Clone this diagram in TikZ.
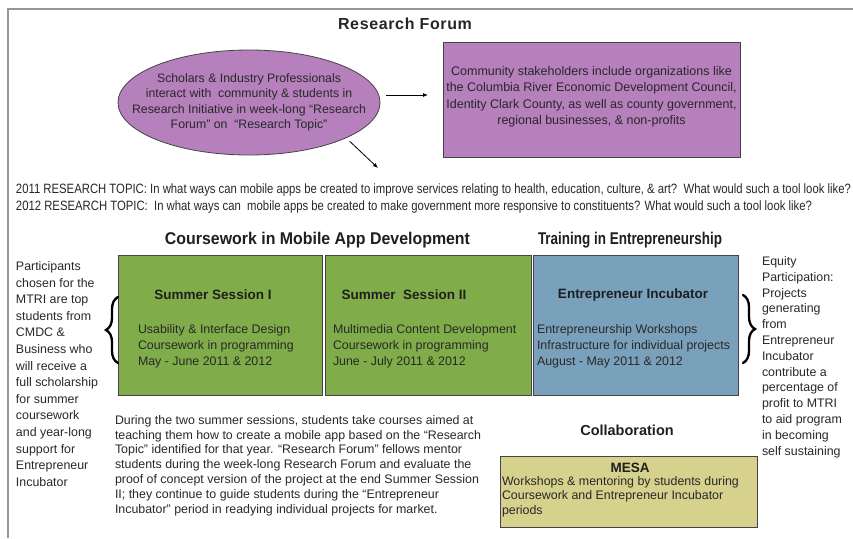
\documentclass[tikz,border=0pt]{standalone}
\usepackage{fontspec}
\setmainfont{Liberation Sans}
\usepackage{graphicx}
\usetikzlibrary{shapes.geometric,decorations.pathreplacing,arrows.meta}

\definecolor{forumpurple}{RGB}{181,128,187}
\definecolor{coursegreen}{RGB}{128,172,74}
\definecolor{incubblue}{RGB}{122,161,187}
\definecolor{mesayellow}{RGB}{214,210,142}
\definecolor{framegray}{RGB}{150,150,150}
\definecolor{edgegray}{RGB}{72,66,72}
\definecolor{inktext}{RGB}{40,40,40}

\begin{document}
\begin{tikzpicture}[x=1pt,y=-1pt,
  every node/.style={inner sep=0pt, outer sep=0pt},
  sidetext/.style={font=\fontsize{12.4}{16.4}\selectfont, text=inktext, align=left, anchor=west},
  boxtext/.style={font=\fontsize{12.4}{15.8}\selectfont, text=inktext, align=left, anchor=west},
  boxtitle/.style={font=\fontsize{13.5}{16}\selectfont\bfseries, text=black!88},
  panel/.style={draw=edgegray, line width=0.8pt},
  arr/.style={-{Latex[length=5pt,width=4pt]}, line width=0.8pt},
  bracestyle/.style={decorate, decoration={brace, amplitude=12pt}, line width=2.3pt, line cap=round},
]
% canvas and outer frame
\fill[white] (0,0) rectangle (853,538);
\useasboundingbox (0,0) rectangle (853,538);
\draw[framegray, line width=2pt] (8,538) -- (8,9) -- (853,9);

% ---- Research Forum ----
\node[font=\fontsize{16}{19}\selectfont\bfseries\addfontfeature{LetterSpace=4}, text=black!85] (rftitle) at (405,24) {Research Forum};

\node[ellipse, panel, fill=forumpurple, minimum width=262pt, minimum height=105pt] (ell) at (249,102.5) {};
\node[font=\fontsize{12.3}{15.5}\selectfont, text=inktext, align=center] (elltext) at (ell.center) {Scholars \& Industry Professionals\\interact with\ \ community \& students in\\Research Initiative in week-long ``Research\\Forum'' on\ \ ``Research Topic''};

\node[panel, fill=forumpurple, minimum width=297pt, minimum height=115pt] (fbox) at (591.5,99.5) {};
\node[font=\fontsize{12.5}{16.5}\selectfont, text=inktext, align=center] (fboxtext) at (591.5,97) {Community stakeholders include organizations like\\the Columbia River Economic Development Council,\\Identity Clark County, as well as county government,\\regional businesses, \& non-profits};

\coordinate (topicpt) at (378,168);
\draw[arr] ([xshift=6pt,yshift=7.5pt]ell.east) -- ([xshift=-15pt,yshift=4.5pt]fbox.west);
\draw[arr, shorten <=5pt] (ell.-20) -- (topicpt);

% ---- research topics ----
\node[anchor=west, text=inktext] (topics) at (16,198.5) {\resizebox{835pt}{\height}{\fontsize{13.5}{17}\selectfont\begin{tabular}{@{}l@{}}2011 RESEARCH TOPIC: In what ways can mobile apps be created to improve services relating to health, education, culture, \& art?\ \ What would such a tool look like?\\2012 RESEARCH TOPIC:\ \ In what ways can\ \ mobile apps be created to make government more responsive to constituents? What would such a tool look like?\end{tabular}}};

% ---- section headings ----
\node[text=black!88] (hcourse) at (317.5,240) {\resizebox{305pt}{\height}{\fontsize{17}{20}\selectfont\bfseries Coursework in Mobile App Development}};
\node[text=black!88] (htrain) at (630,240) {\resizebox{184pt}{\height}{\fontsize{17}{20}\selectfont\bfseries Training in Entrepreneurship}};

% ---- program boxes ----
\node[panel, fill=coursegreen, minimum width=204pt, minimum height=140pt] (s1) at (220,325) {};
\node[panel, fill=coursegreen, minimum width=206pt, minimum height=140pt] (s2) at (428,325) {};
\node[panel, fill=incubblue, minimum width=205pt, minimum height=140pt] (ei) at (635.5,325) {};

\node[boxtitle] (s1title) at (213,295) {Summer Session I};
\node[boxtitle] (s2title) at (404,295) {Summer\ \ Session II};
\node[boxtitle] (eititle) at (633,295) {Entrepreneur Incubator};

\node[boxtext] (s1text) at (138,346) {Usability \& Interface Design\\Coursework in programming\\May - June 2011 \& 2012};
\node[boxtext] (s2text) at (333,346) {Multimedia Content Development\\Coursework in programming\\June - July 2011 \& 2012};
\node[boxtext] (eitext) at (537,346) {Entrepreneurship Workshops\\Infrastructure for individual projects\\August - May 2011 \& 2012};

% ---- side notes with braces ----
\node[sidetext, font=\fontsize{12.4}{16.6}\selectfont] (lefttext) at (16,374) {Participants\\chosen for the\\MTRI are top\\students from\\CMDC \&\\Business who\\will receive a\\full scholarship\\for summer\\coursework\\and year-long\\support for\\Entrepreneur\\Incubator};
\draw[bracestyle] (118,363) -- (118,297);

\node[sidetext, font=\fontsize{12.4}{15.8}\selectfont] (righttext) at (762,357) {Equity\\Participation:\\Projects\\generating\\from\\Entrepreneur\\Incubator\\contribute a\\percentage of\\profit to MTRI\\to aid program\\in becoming\\self sustaining};
\draw[bracestyle] (743,295) -- (743,363);

% ---- summary paragraph ----
\node[sidetext, font=\fontsize{12.4}{14.8}\selectfont] (summary) at (115,465.5) {During the two summer sessions, students take courses aimed at\\teaching them how to create a mobile app based on the ``Research\\Topic'' identified for that year. ``Research Forum'' fellows mentor\\students during the week-long Research Forum and evaluate the\\proof of concept version of the project at the end Summer Session\\II; they continue to guide students during the ``Entrepreneur\\Incubator'' period in readying individual projects for market.};

% ---- collaboration ----
\node[font=\fontsize{14.5}{17}\selectfont\bfseries, text=black!88] (collab) at (627,430) {Collaboration};
\node[panel, fill=mesayellow, minimum width=257pt, minimum height=71pt] (mesa) at (628.5,491.5) {};
\node[font=\fontsize{13.5}{16}\selectfont\bfseries, text=black!88] (mesatitle) at (630,468) {MESA};
\node[boxtext, font=\fontsize{12.4}{14.5}\selectfont] (mesatext) at (502,496.5) {Workshops \& mentoring by students during\\Coursework and Entrepreneur Incubator\\periods};
\end{tikzpicture}
\end{document}
